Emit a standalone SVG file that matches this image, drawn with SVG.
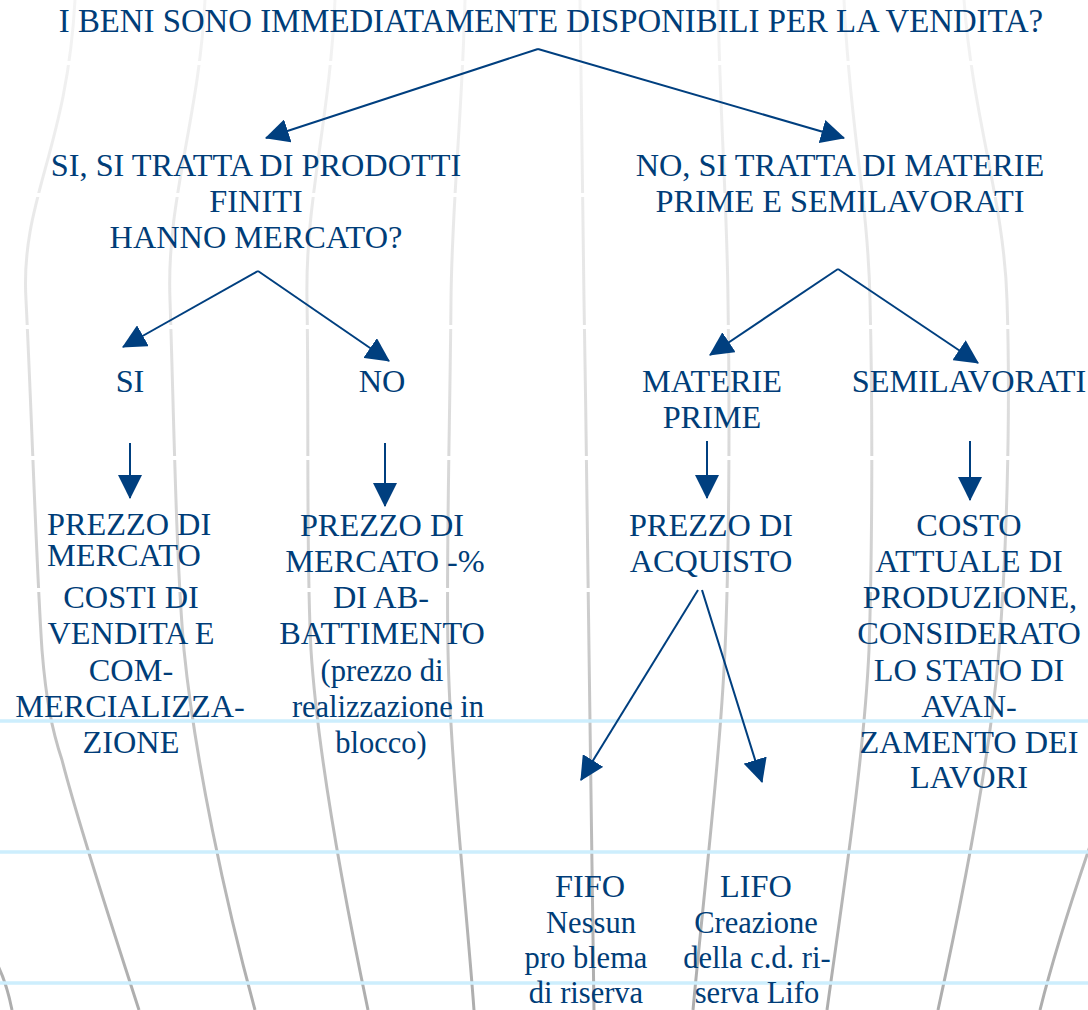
<svg xmlns="http://www.w3.org/2000/svg" width="1088" height="1010" viewBox="0 0 1088 1010">
<defs>
<linearGradient id="mg" gradientUnits="userSpaceOnUse" x1="0" y1="0" x2="0" y2="1010">
<stop offset="0" stop-color="#f4f4f4"/>
<stop offset="0.3" stop-color="#e5e5e5"/>
<stop offset="0.6" stop-color="#cdcdcd"/>
<stop offset="1" stop-color="#adadad"/>
</linearGradient>
<marker id="ah" markerUnits="userSpaceOnUse" markerWidth="24" markerHeight="24" viewBox="0 0 22 22" refX="21" refY="11" orient="auto">
<path d="M0,0 L22,11 L0,22 z" fill="#003f7f"/>
</marker>
<style>
.m{fill:none;stroke:url(#mg);stroke-width:3}
.gap{stroke:#ffffff;stroke-width:4}
.hb{stroke:#cdeefd;stroke-width:3.5}
.c{stroke:#003f7f;stroke-width:2;fill:none;marker-end:url(#ah)}
text{font-family:"Liberation Serif","Times New Roman",serif;font-size:32.3px;fill:#003d78}
.mid{text-anchor:middle}
.lc{font-size:30.5px}
.t{font-size:32.8px}
</style>
</defs>
<rect width="1088" height="1010" fill="#ffffff"/>
<g id="background">
<path class="m" d="M75,0 C67,150 20,200 26,300 C32,420 36,560 42,650 C46,700 52,730 62,760 C80,830 110,920 139,1010"/>
<path class="m" d="M205,0 C199,120 166,200 170,300 C174,420 176,560 184,650 C195,760 225,900 255,1010"/>
<path class="m" d="M335,0 C330,120 305,200 307,300 C309,420 306,560 311,650 C318,760 345,900 368,1010"/>
<path class="m" d="M465,0 C462,120 452,200 451,300 C450,420 446,560 448,650 C450,760 466,900 474,1010"/>
<path class="m" d="M580,0 C581,120 583,200 584,300 C586,420 588,560 589,650 C590,760 593,900 594,1010"/>
<path class="m" d="M718,0 C720,120 727,200 728,300 C730,420 729,560 725,650 C720,760 703,900 693,1010"/>
<path class="m" d="M844,0 C849,120 868,200 870,300 C873,420 872,560 869,650 C864,760 842,900 827,1010"/>
<path class="m" d="M964,0 C973,120 1004,200 1007,300 C1011,420 1006,560 999,650 C990,760 962,900 938,1010"/>
<path class="m" d="M-4,962 C3,975 8,990 12,1010"/>
<path class="m" d="M1090,846 C1075,890 1055,950 1040,1010"/>
<line class="gap" x1="0" y1="63" x2="1088" y2="63"/>
<line class="gap" x1="0" y1="195" x2="1088" y2="195"/>
<line class="gap" x1="0" y1="327" x2="1088" y2="327"/>
<line class="gap" x1="0" y1="458" x2="1088" y2="458"/>
<line class="gap" x1="0" y1="590" x2="1088" y2="590"/>
<line class="hb" x1="0" y1="721" x2="1088" y2="721"/>
<line class="hb" x1="0" y1="852" x2="1088" y2="852"/>
<line class="hb" x1="0" y1="983" x2="1088" y2="983"/>
</g>
<g id="connectors">
<line class="c" x1="538" y1="49" x2="266" y2="138"/>
<line class="c" x1="538" y1="49" x2="844" y2="138"/>
<line class="c" x1="258" y1="271" x2="123" y2="347"/>
<line class="c" x1="258" y1="271" x2="389" y2="361"/>
<line class="c" x1="130" y1="443" x2="130" y2="498"/>
<line class="c" x1="385" y1="443" x2="385" y2="506"/>
<line class="c" x1="838" y1="269" x2="710" y2="355"/>
<line class="c" x1="838" y1="269" x2="978" y2="363"/>
<line class="c" x1="707" y1="441" x2="707" y2="498"/>
<line class="c" x1="970" y1="441" x2="970" y2="500"/>
<line class="c" x1="698" y1="590" x2="581" y2="780"/>
<line class="c" x1="702" y1="590" x2="762" y2="782"/>
</g>
<g id="n-title"><text class="mid t" x="551" y="32">I BENI SONO IMMEDIATAMENTE DISPONIBILI PER LA VENDITA?</text></g>
<g id="n-si-prodotti">
<text class="mid" x="256" y="176">SI, SI TRATTA DI PRODOTTI</text>
<text class="mid" x="256" y="212">FINITI</text>
<text class="mid" x="256" y="248">HANNO MERCATO?</text>
</g>
<g id="n-no-materie">
<text class="mid" x="840" y="176">NO, SI TRATTA DI MATERIE</text>
<text class="mid" x="840" y="212">PRIME E SEMILAVORATI</text>
</g>
<g id="n-si"><text class="mid" x="130" y="392">SI</text></g>
<g id="n-no"><text class="mid" x="382" y="392">NO</text></g>
<g id="n-materie-prime">
<text class="mid" x="712" y="392">MATERIE</text>
<text class="mid" x="712" y="428">PRIME</text>
</g>
<g id="n-semilavorati"><text class="mid" x="969" y="392">SEMILAVORATI</text></g>
<g id="n-prezzo-mercato">
<text x="47" y="535">PREZZO DI</text>
<text x="47" y="566">MERCATO</text>
<text class="mid" x="131" y="608">COSTI DI</text>
<text class="mid" x="131" y="644">VENDITA E</text>
<text class="mid" x="131" y="681">COM-</text>
<text class="mid" x="130" y="717">MERCIALIZZA-</text>
<text class="mid" x="131" y="753">ZIONE</text>
</g>
<g id="n-prezzo-abbattimento">
<text class="mid" x="382" y="536">PREZZO DI</text>
<text class="mid" x="385" y="572">MERCATO -%</text>
<text class="mid" x="381" y="608">DI AB-</text>
<text class="mid" x="382" y="644">BATTIMENTO</text>
<text class="mid lc" x="382" y="681">(prezzo di</text>
<text class="mid lc" x="388" y="717">realizzazione in</text>
<text class="mid lc" x="381" y="753">blocco)</text>
</g>
<g id="n-prezzo-acquisto">
<text class="mid" x="711" y="536">PREZZO DI</text>
<text class="mid" x="711" y="572">ACQUISTO</text>
</g>
<g id="n-costo-produzione">
<text class="mid" x="969" y="536">COSTO</text>
<text class="mid" x="969" y="572">ATTUALE DI</text>
<text class="mid" x="970" y="608">PRODUZIONE,</text>
<text class="mid" x="969" y="644">CONSIDERATO</text>
<text class="mid" x="969" y="681">LO STATO DI</text>
<text class="mid" x="969" y="717">AVAN-</text>
<text class="mid" x="969" y="753">ZAMENTO DEI</text>
<text class="mid" x="969" y="788">LAVORI</text>
</g>
<g id="n-fifo">
<text class="mid" x="590" y="897">FIFO</text>
<text class="mid lc" x="591" y="933">Nessun</text>
<text class="mid lc" x="586" y="968">pro blema</text>
<text class="mid lc" x="586" y="1003">di riserva</text>
</g>
<g id="n-lifo">
<text class="mid" x="756" y="897">LIFO</text>
<text class="mid lc" x="756" y="933">Creazione</text>
<text class="mid lc" x="757" y="968">della c.d. ri-</text>
<text class="mid lc" x="757" y="1003">serva Lifo</text>
</g>
</svg>
